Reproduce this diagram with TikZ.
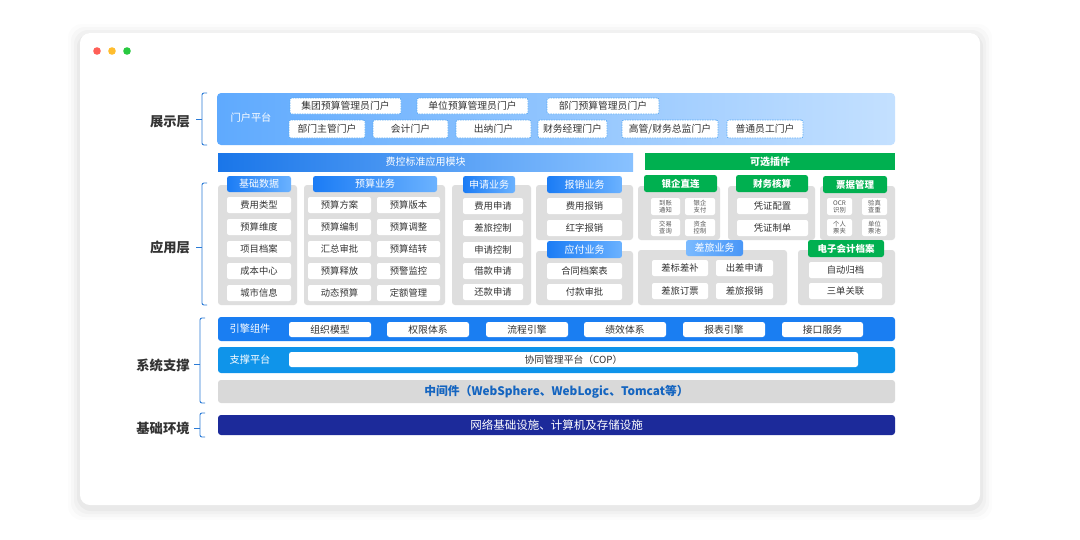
\documentclass[tikz,border=0pt]{standalone}
\usepackage{fontspec}
\setmainfont{Noto Sans CJK SC}
\definecolor{panelgray}{HTML}{DEDEDE}
\definecolor{txt}{HTML}{333333}
\definecolor{smalltxt}{HTML}{555555}
\definecolor{bracecol}{HTML}{2B7BD6}
\definecolor{tabA}{HTML}{1B7CF5}
\definecolor{tabB}{HTML}{6BB2FF}
\definecolor{grn}{HTML}{00B050}
\definecolor{engine}{HTML}{1A7EF2}
\definecolor{support}{HTML}{0F94EA}
\definecolor{mwgray}{HTML}{D9D9D9}
\definecolor{mwtext}{HTML}{1565C0}
\definecolor{basecol}{HTML}{1C2A9A}
\definecolor{dashblue}{HTML}{5AAAF5}
\definecolor{dotr}{HTML}{FF5F57}
\definecolor{doty}{HTML}{FFBD2E}
\definecolor{dotg}{HTML}{28C940}
\newcommand\bx[7]{\node[#6, minimum width={(#4-#2)*1pt}, minimum height={(#5-#3)*1pt}] (#1) at ({(#2+#4)/2},{(#3+#5)/2}) {#7};}
\tikzset{
  base/.style={inner sep=0pt, outer sep=0pt},
  layer/.style={base, font=\bfseries\fontsize{13.3}{14}\selectfont, text=txt},
  brace/.style={draw=bracecol, line width=0.9pt, rounded corners=2pt},
  portalbg/.style={base, rounded corners=4pt, left color=tabB!85!tabA, right color=tabB!40!white},
  pitem/.style={base, fill=white, draw=dashblue, dash pattern=on 1.5pt off 1pt, line width=0.7pt, rounded corners=2pt, font=\fontsize{9.8}{10}\selectfont, text=txt},
  bluebar/.style={base, left color=tabA!95!black, right color=tabB!80!white, font=\fontsize{10}{10}\selectfont, text=white},
  greenbar/.style={base, fill=grn, font=\bfseries\fontsize{10}{10}\selectfont, text=white},
  panel/.style={base, fill=panelgray, rounded corners=3pt},
  bluetab/.style={base, rounded corners=2.5pt, left color=tabA, right color=tabB, font=\fontsize{10}{10}\selectfont, text=white},
  bluetab2/.style={base, rounded corners=2.5pt, left color=tabB!90!white, right color=tabA!80!white, font=\fontsize{10}{10}\selectfont, text=white},
  greentab/.style={base, rounded corners=2.5pt, fill=grn, font=\bfseries\fontsize{9.5}{10}\selectfont, text=white},
  item/.style={base, fill=white, rounded corners=2pt, font=\fontsize{9.3}{9.5}\selectfont, text=txt},
  sitem/.style={base, fill=white, rounded corners=2pt, align=center, font=\fontsize{6.3}{7}\selectfont, text=smalltxt},
  barlabel/.style={base, font=\fontsize{10.2}{10.5}\selectfont, text=white},
  eitem/.style={base, fill=white, rounded corners=2.5pt, font=\fontsize{9.8}{10}\selectfont, text=txt},
}
\begin{document}
\begin{tikzpicture}[x=1pt,y=-1pt]
\useasboundingbox (0,0) rectangle (1080,539);
\fill[white] (0,0) rectangle (1080,539);
% card shadow and card
\foreach \i/\o in {12/0.012,9/0.018,6/0.024,3/0.03}
  \fill[black,opacity=\o,rounded corners=14pt] ({80-\i},{33-\i+3}) rectangle ({980+\i},{505+\i+3});
\fill[white,rounded corners=10pt] (80,33) rectangle (980,505);
\fill[dotr] (97,51) circle (3.8);
\fill[doty] (112,51) circle (3.8);
\fill[dotg] (127,51) circle (3.8);

% layer labels
\node[layer] (l1) at (170,122) {展示层};
\node[layer] (l2) at (170,247) {应用层};
\node[layer] (l3) at (163,365) {系统支撑};
\node[layer] (l4) at (163,428) {基础环境};
% braces
\draw[brace] (207,93) -- (202,93) -- (202,145) -- (207,145);
\draw[brace] (202,119) -- (196,119);
\draw[brace] (207,183) -- (202,183) -- (202,305) -- (207,305);
\draw[brace] (202,247) -- (196,247);
\draw[brace] (205,318) -- (200,318) -- (200,403) -- (205,403);
\draw[brace] (200,364) -- (194,364);
\draw[brace] (205,413) -- (200,413) -- (200,437) -- (205,437);
\draw[brace] (200,428) -- (194,428);

% portal layer
\bx{portal}{217}{93}{895}{145}{portalbg}{}
\node[barlabel] (ptitle) at (251,118) {门户平台};
\bx{p1}{290}{98}{401}{114}{pitem}{集团预算管理员门户}
\bx{p2}{417}{98}{528}{114}{pitem}{单位预算管理员门户}
\bx{p3}{547}{98}{659}{114}{pitem}{部门预算管理员门户}
\bx{p4}{289}{120}{365}{138}{pitem}{部门主管门户}
\bx{p5}{373}{120}{448}{138}{pitem}{会计门户}
\bx{p6}{456}{120}{531}{138}{pitem}{出纳门户}
\bx{p7}{538}{120}{607}{138}{pitem}{财务经理门户}
\bx{p8}{622}{120}{718}{138}{pitem}{高管/财务总监门户}
\bx{p9}{727}{120}{803}{138}{pitem}{普通员工门户}

% application layer
\bx{fk}{218}{153}{633}{171}{bluebar}{费控标准应用模块}
\bx{kx}{645}{153}{895}{170}{greenbar}{可选插件}
\bx{g1}{218}{185}{297}{305}{panel}{}
\bx{g2}{304}{185}{445}{305}{panel}{}
\bx{g3}{452}{185}{531}{305}{panel}{}
\bx{g4}{536}{185}{633}{240}{panel}{}
\bx{g5}{536}{251}{633}{305}{panel}{}
\bx{g6}{638}{186}{720}{240}{panel}{}
\bx{g7}{728}{186}{815}{240}{panel}{}
\bx{g8}{820}{186}{895}{240}{panel}{}
\bx{g9}{638}{250}{787}{305}{panel}{}
\bx{g10}{798}{250}{895}{305}{panel}{}

\bx{h1}{227}{176}{291}{192}{bluetab}{基础数据}
\bx{h2}{313}{176}{437}{192}{bluetab}{预算业务}
\bx{h3}{463}{176}{515}{193}{bluetab}{申请业务}
\bx{h4}{547}{176}{622}{193}{bluetab}{报销业务}
\bx{h5}{547}{241}{622}{258}{bluetab}{应付业务}
\bx{h6}{644}{175}{717}{192}{greentab}{银企直连}
\bx{h7}{736}{175}{808}{192}{greentab}{财务核算}
\bx{h8}{823}{176}{887}{193}{greentab}{票据管理}
\bx{h9}{686}{240}{743}{256}{bluetab2}{差旅业务}
\bx{h10}{808}{240}{884}{257}{greentab}{电子会计档案}

% 基础数据
\bx{a1}{227}{197}{291}{213}{item}{费用类型}
\bx{a2}{227}{219}{291}{235}{item}{预算维度}
\bx{a3}{227}{241}{291}{257}{item}{项目档案}
\bx{a4}{227}{263}{291}{279}{item}{成本中心}
\bx{a5}{227}{285}{291}{301}{item}{城市信息}
% 预算业务
\bx{b1}{308}{197}{371}{213}{item}{预算方案}
\bx{b2}{377}{197}{440}{213}{item}{预算版本}
\bx{b3}{308}{219}{371}{235}{item}{预算编制}
\bx{b4}{377}{219}{440}{235}{item}{预算调整}
\bx{b5}{308}{241}{371}{257}{item}{汇总审批}
\bx{b6}{377}{241}{440}{257}{item}{预算结转}
\bx{b7}{308}{263}{371}{279}{item}{预算释放}
\bx{b8}{377}{263}{440}{279}{item}{预警监控}
\bx{b9}{308}{285}{371}{301}{item}{动态预算}
\bx{b10}{377}{285}{440}{301}{item}{定额管理}
% 申请业务
\bx{c1}{463}{198}{523}{214}{item}{费用申请}
\bx{c2}{463}{220}{523}{236}{item}{差旅控制}
\bx{c3}{463}{242}{523}{258}{item}{申请控制}
\bx{c4}{463}{263}{523}{279}{item}{借款申请}
\bx{c5}{463}{284}{523}{300}{item}{还款申请}
% 报销 / 应付
\bx{d1}{547}{198}{622}{214}{item}{费用报销}
\bx{d2}{547}{220}{622}{236}{item}{红字报销}
\bx{e1}{547}{263}{622}{279}{item}{合同档案表}
\bx{e2}{547}{284}{622}{300}{item}{付款审批}
% 银企直连
\bx{f1}{651}{198}{680}{215}{sitem}{到账\\通知}
\bx{f2}{685}{198}{715}{215}{sitem}{银企\\支付}
\bx{f3}{651}{219}{680}{236}{sitem}{交易\\查询}
\bx{f4}{685}{219}{715}{236}{sitem}{资金\\控制}
% 财务核算
\bx{k1}{737}{198}{808}{214}{item}{凭证配置}
\bx{k2}{737}{220}{808}{236}{item}{凭证制单}
% 票据管理
\bx{n1}{827}{198}{852}{215}{sitem}{OCR\\识别}
\bx{n2}{862}{198}{887}{215}{sitem}{验真\\查重}
\bx{n3}{827}{219}{852}{236}{sitem}{个人\\票夹}
\bx{n4}{862}{219}{887}{236}{sitem}{单位\\票池}
% 差旅业务
\bx{t1}{652}{260}{708}{276}{item}{差标差补}
\bx{t2}{716}{260}{773}{276}{item}{出差申请}
\bx{t3}{652}{283}{708}{299}{item}{差旅订票}
\bx{t4}{716}{283}{773}{299}{item}{差旅报销}
% 电子会计档案
\bx{r1}{809}{262}{882}{278}{item}{自动归档}
\bx{r2}{809}{283}{882}{299}{item}{三单关联}

% system support
\bx{yq}{218}{317}{895}{341}{base, fill=engine, rounded corners=3pt}{}
\node[barlabel] (yqt) at (250,329) {引擎组件};
\bx{s1}{289}{322}{371}{337}{eitem}{组织模型}
\bx{s2}{387}{322}{469}{337}{eitem}{权限体系}
\bx{s3}{486}{322}{568}{337}{eitem}{流程引擎}
\bx{s4}{584}{322}{666}{337}{eitem}{绩效体系}
\bx{s5}{683}{322}{765}{337}{eitem}{报表引擎}
\bx{s6}{782}{322}{863}{337}{eitem}{接口服务}
\bx{zc}{218}{347}{895}{373}{base, fill=support, rounded corners=3pt}{}
\node[barlabel] (zct) at (250,360) {支撑平台};
\bx{cop}{289}{352}{858}{367}{eitem}{协同管理平台（COP）}
\bx{mw}{218}{380}{895}{403}{base, fill=mwgray, rounded corners=3pt, font=\bfseries\fontsize{11.8}{12}\selectfont, text=mwtext}{中间件（WebSphere、WebLogic、Tomcat等）}
% base environment
\bx{jc}{218}{415}{895}{435}{base, fill=basecol, rounded corners=3pt, font=\fontsize{11.5}{12}\selectfont, text=white}{网络基础设施、计算机及存储设施}
\end{tikzpicture}
\end{document}
